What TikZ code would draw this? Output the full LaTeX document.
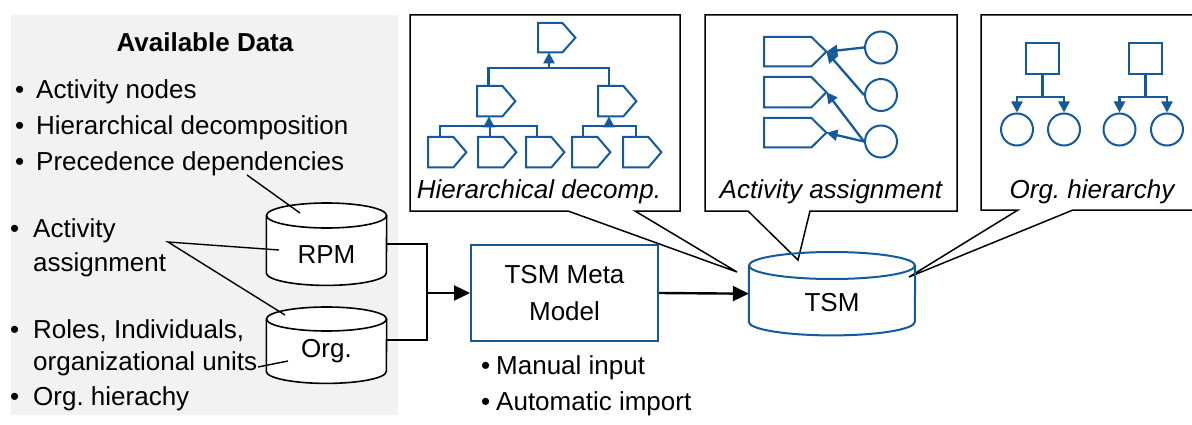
\documentclass[tikz,border=0pt]{standalone}
\usepackage{fontspec}
\setmainfont{Liberation Sans}
\usetikzlibrary{arrows.meta}
\definecolor{dblue}{RGB}{20,90,155}
\definecolor{panel}{RGB}{242,242,242}
\frenchspacing

% database cylinder: name, centre x, top y, width, height, ellipse half-height, style
\newcommand\dbcyl[7]{%
  \node[inner sep=0pt, minimum width=#4pt, minimum height=#5pt, anchor=north] (#1) at (#2,-#3) {};
  \draw[#7] ([yshift=-#6pt]#1.north west) -- ([yshift=#6pt]#1.south west)
     arc[start angle=180, end angle=360, x radius=#4pt/2, y radius=#6pt]
     -- ([yshift=-#6pt]#1.north east);
  \draw[#7] ([yshift=-#6pt]#1.north) ellipse[x radius=#4pt/2, y radius=#6pt];
}

% activity tag: name, left x, top y, total width, height, depth of the point
\newcommand\acttag[6]{%
  \node[inner sep=0pt, minimum width=#4pt, minimum height=#5pt, anchor=north west] (#1) at (#2,-#3) {};
  \draw[tagline] (#1.north west) -- ([xshift=-#6pt]#1.north east) -- (#1.east)
     -- ([xshift=-#6pt]#1.south east) -- (#1.south west) -- cycle;
}

\begin{document}
\begin{tikzpicture}[x=1pt,y=1pt,
  txt/.style={font=\fontsize{26}{36}\selectfont, inner sep=0pt, anchor=base west},
  ctxt/.style={font=\fontsize{26}{36}\selectfont\itshape, inner sep=0pt, anchor=base},
  callout/.style={draw=black, line width=1.5pt, fill=white},
  hint/.style={draw=black, line width=1.4pt},
  conn/.style={draw=black, line width=2.4pt},
  bigarrow/.style={-{Triangle[length=16pt,width=15pt]}},
  tagline/.style={draw=dblue, line width=2pt, fill=white, line join=miter},
  bl/.style={draw=dblue, line width=2.3pt},
  blarrow/.style={bl, -{Triangle[length=11pt,width=11pt]}},
  unit/.style={draw=dblue, line width=2pt, fill=white, circle, inner sep=0pt, minimum size=32pt},
  role/.style={draw=dblue, line width=2pt, fill=white, rectangle, inner sep=0pt,
    minimum width=33pt, minimum height=31pt},
]
\clip (0,0) rectangle (1192,-425);

% panel listing the available data
\fill[panel] (11,-15) rectangle (398,-415);
\node[font=\fontsize{26}{36}\selectfont\bfseries, inner sep=0pt, anchor=base] (avail) at (205,-52) {Available Data};
\node[txt] (d1b) at (15,-99) {•};  \node[txt] (d1) at (36,-99) {Activity nodes};
\node[txt] (d2b) at (15,-135) {•}; \node[txt] (d2) at (36,-135) {Hierarchical decomposition};
\node[txt] (d3b) at (15,-171) {•}; \node[txt] (d3) at (36,-171) {Precedence dependencies};
\node[txt] (d4b) at (10,-237) {•}; \node[txt] (d4) at (33,-237) {Activity};
\node[txt] (d4x) at (33,-271) {assignment};
\node[txt] (d5b) at (10,-338) {•}; \node[txt] (d5) at (33,-338) {Roles, Individuals,};
\node[txt] (d5x) at (33,-370) {organizational units};
\node[txt] (d6b) at (10,-405) {•}; \node[txt] (d6) at (33,-405) {Org. hierachy};

% callout panels
\draw[callout] (410,-15) -- (680,-15) -- (680,-211) -- (635,-211) -- (737,-272)
  -- (568,-211) -- (410,-211) -- cycle;
\draw[callout] (705,-15) -- (957,-15) -- (957,-211) -- (810,-211) -- (798,-260)
  -- (748,-211) -- (705,-211) -- cycle;
\draw[callout] (981,-15) -- (1200,-15) -- (1200,-210) -- (1073,-210) -- (909,-277)
  -- (1018,-210) -- (981,-210) -- cycle;
\node[ctxt] (c1) at (539,-198) {Hierarchical decomp.};
\node[ctxt] (c2) at (831,-198) {Activity assignment};
\node[ctxt] (c3) at (1092,-198) {Org. hierarchy};

% hierarchical decomposition
\acttag{top}{538}{23}{37}{29}{13}
\acttag{ml}{477}{86}{38}{30}{13}
\acttag{mr}{598}{86}{38}{30}{13}
\acttag{a1}{428}{137}{38}{30}{13}
\acttag{a2}{478}{137}{38}{30}{13}
\acttag{a3}{526}{137}{38}{30}{13}
\acttag{a4}{572}{137}{38}{30}{13}
\acttag{a5}{623}{137}{38}{30}{13}
\draw[bl] ([xshift=11.5pt]ml.north west) -- ++(0,18) -| ([xshift=11pt]mr.north west);
\draw[blarrow] ([xshift=11pt,yshift=-16pt]top.south west) -- ([xshift=11pt]top.south west);
\draw[bl] ([xshift=12pt]a1.north west) -- ++(0,11) -| ([xshift=11pt]a3.north west);
\draw[bl] ([xshift=12pt]a2.north west) -- ++(0,11);
\draw[blarrow] ([xshift=12pt,yshift=-10pt]ml.south west) -- ([xshift=12pt]ml.south west);
\draw[bl] ([xshift=11pt]a4.north west) -- ++(0,11) -| ([xshift=13pt]a5.north west);
\draw[blarrow] ([xshift=11pt,yshift=-10pt]mr.south west) -- ([xshift=11pt]mr.south west);

% activity assignment
\acttag{t1}{764}{37}{62}{29}{15}
\acttag{t2}{764}{77}{62}{30}{15}
\acttag{t3}{764}{118}{62}{29}{15}
\node[unit] (u1) at (881,-47.5) {};
\node[unit] (u2) at (881,-95) {};
\node[unit] (u3) at (881,-141.5) {};
\draw[blarrow] (u1.west) -- (t1.east);
\draw[blarrow] (u2.west) -- (t1.east);
\draw[blarrow] (u3.west) -- (t2.east);
\draw[blarrow] (u3.west) -- (t3.east);

% organizational hierarchy
\node[role] (r1) at (1042.5,-58.5) {};
\node[role] (r2) at (1145.5,-58.5) {};
\node[unit] (o1) at (1017,-129.5) {};
\node[unit] (o2) at (1064,-129.5) {};
\node[unit] (o3) at (1119.5,-129.5) {};
\node[unit] (o4) at (1167,-129.5) {};
\draw[blarrow] (r1.south) -- ++(0,-22) -| (o1.north);
\draw[blarrow] (r1.south) -- ++(0,-22) -| (o2.north);
\draw[blarrow] (r2.south) -- ++(0,-22) -| (o3.north);
\draw[blarrow] (r2.south) -- ++(0,-22) -| (o4.north);

% data sources
\dbcyl{rpm}{326.5}{203}{120}{82}{12.5}{draw=black, line width=1.6pt, fill=white}
\dbcyl{org}{326.5}{307}{120}{76}{12}{draw=black, line width=1.6pt, fill=white}
\node[txt, anchor=base] (rpmT) at (326.5,-263) {RPM};
\node[txt, anchor=base] (orgT) at (326.5,-357) {Org.};

\coordinate (pd) at (247,-175);
\coordinate (pdEnd) at (300,-213);
\coordinate (aa) at (168,-242);
\coordinate (aaR) at (279,-250);
\coordinate (aaO) at (285,-315);
\coordinate (ou) at (258,-367);
\coordinate (ouEnd) at (288,-361);
\draw[hint] (pd) -- (pdEnd);
\draw[hint] (aaR) -- (aa) -- (aaO);
\draw[hint] (ou) -- (ouEnd);

% meta model and target store
\node[draw=dblue, line width=2pt, fill=white, minimum width=187pt, minimum height=96pt,
  align=center, font=\fontsize{26}{37}\selectfont, inner sep=0pt] (meta) at (564.5,-293)
  {TSM Meta\\Model};
\node[txt] (m1b) at (481,-374) {•}; \node[txt] (m1) at (496,-374) {Manual input};
\node[txt] (m2b) at (481,-410) {•}; \node[txt] (m2) at (496,-410) {Automatic import};

\dbcyl{tsm}{832}{252}{166}{83}{13.5}{draw=dblue, line width=2pt}
\node[txt, anchor=base] (tsmT) at (832,-311) {TSM};

\coordinate (jn) at (427,-293);
\draw[conn] (rpm.east) -| (jn);
\draw[conn] ([yshift=5pt]org.east) -| (jn);
\draw[conn, bigarrow] (jn) -- (meta.west);
\draw[conn, bigarrow] (meta.east) -- (tsm.west);
\end{tikzpicture}
\end{document}
